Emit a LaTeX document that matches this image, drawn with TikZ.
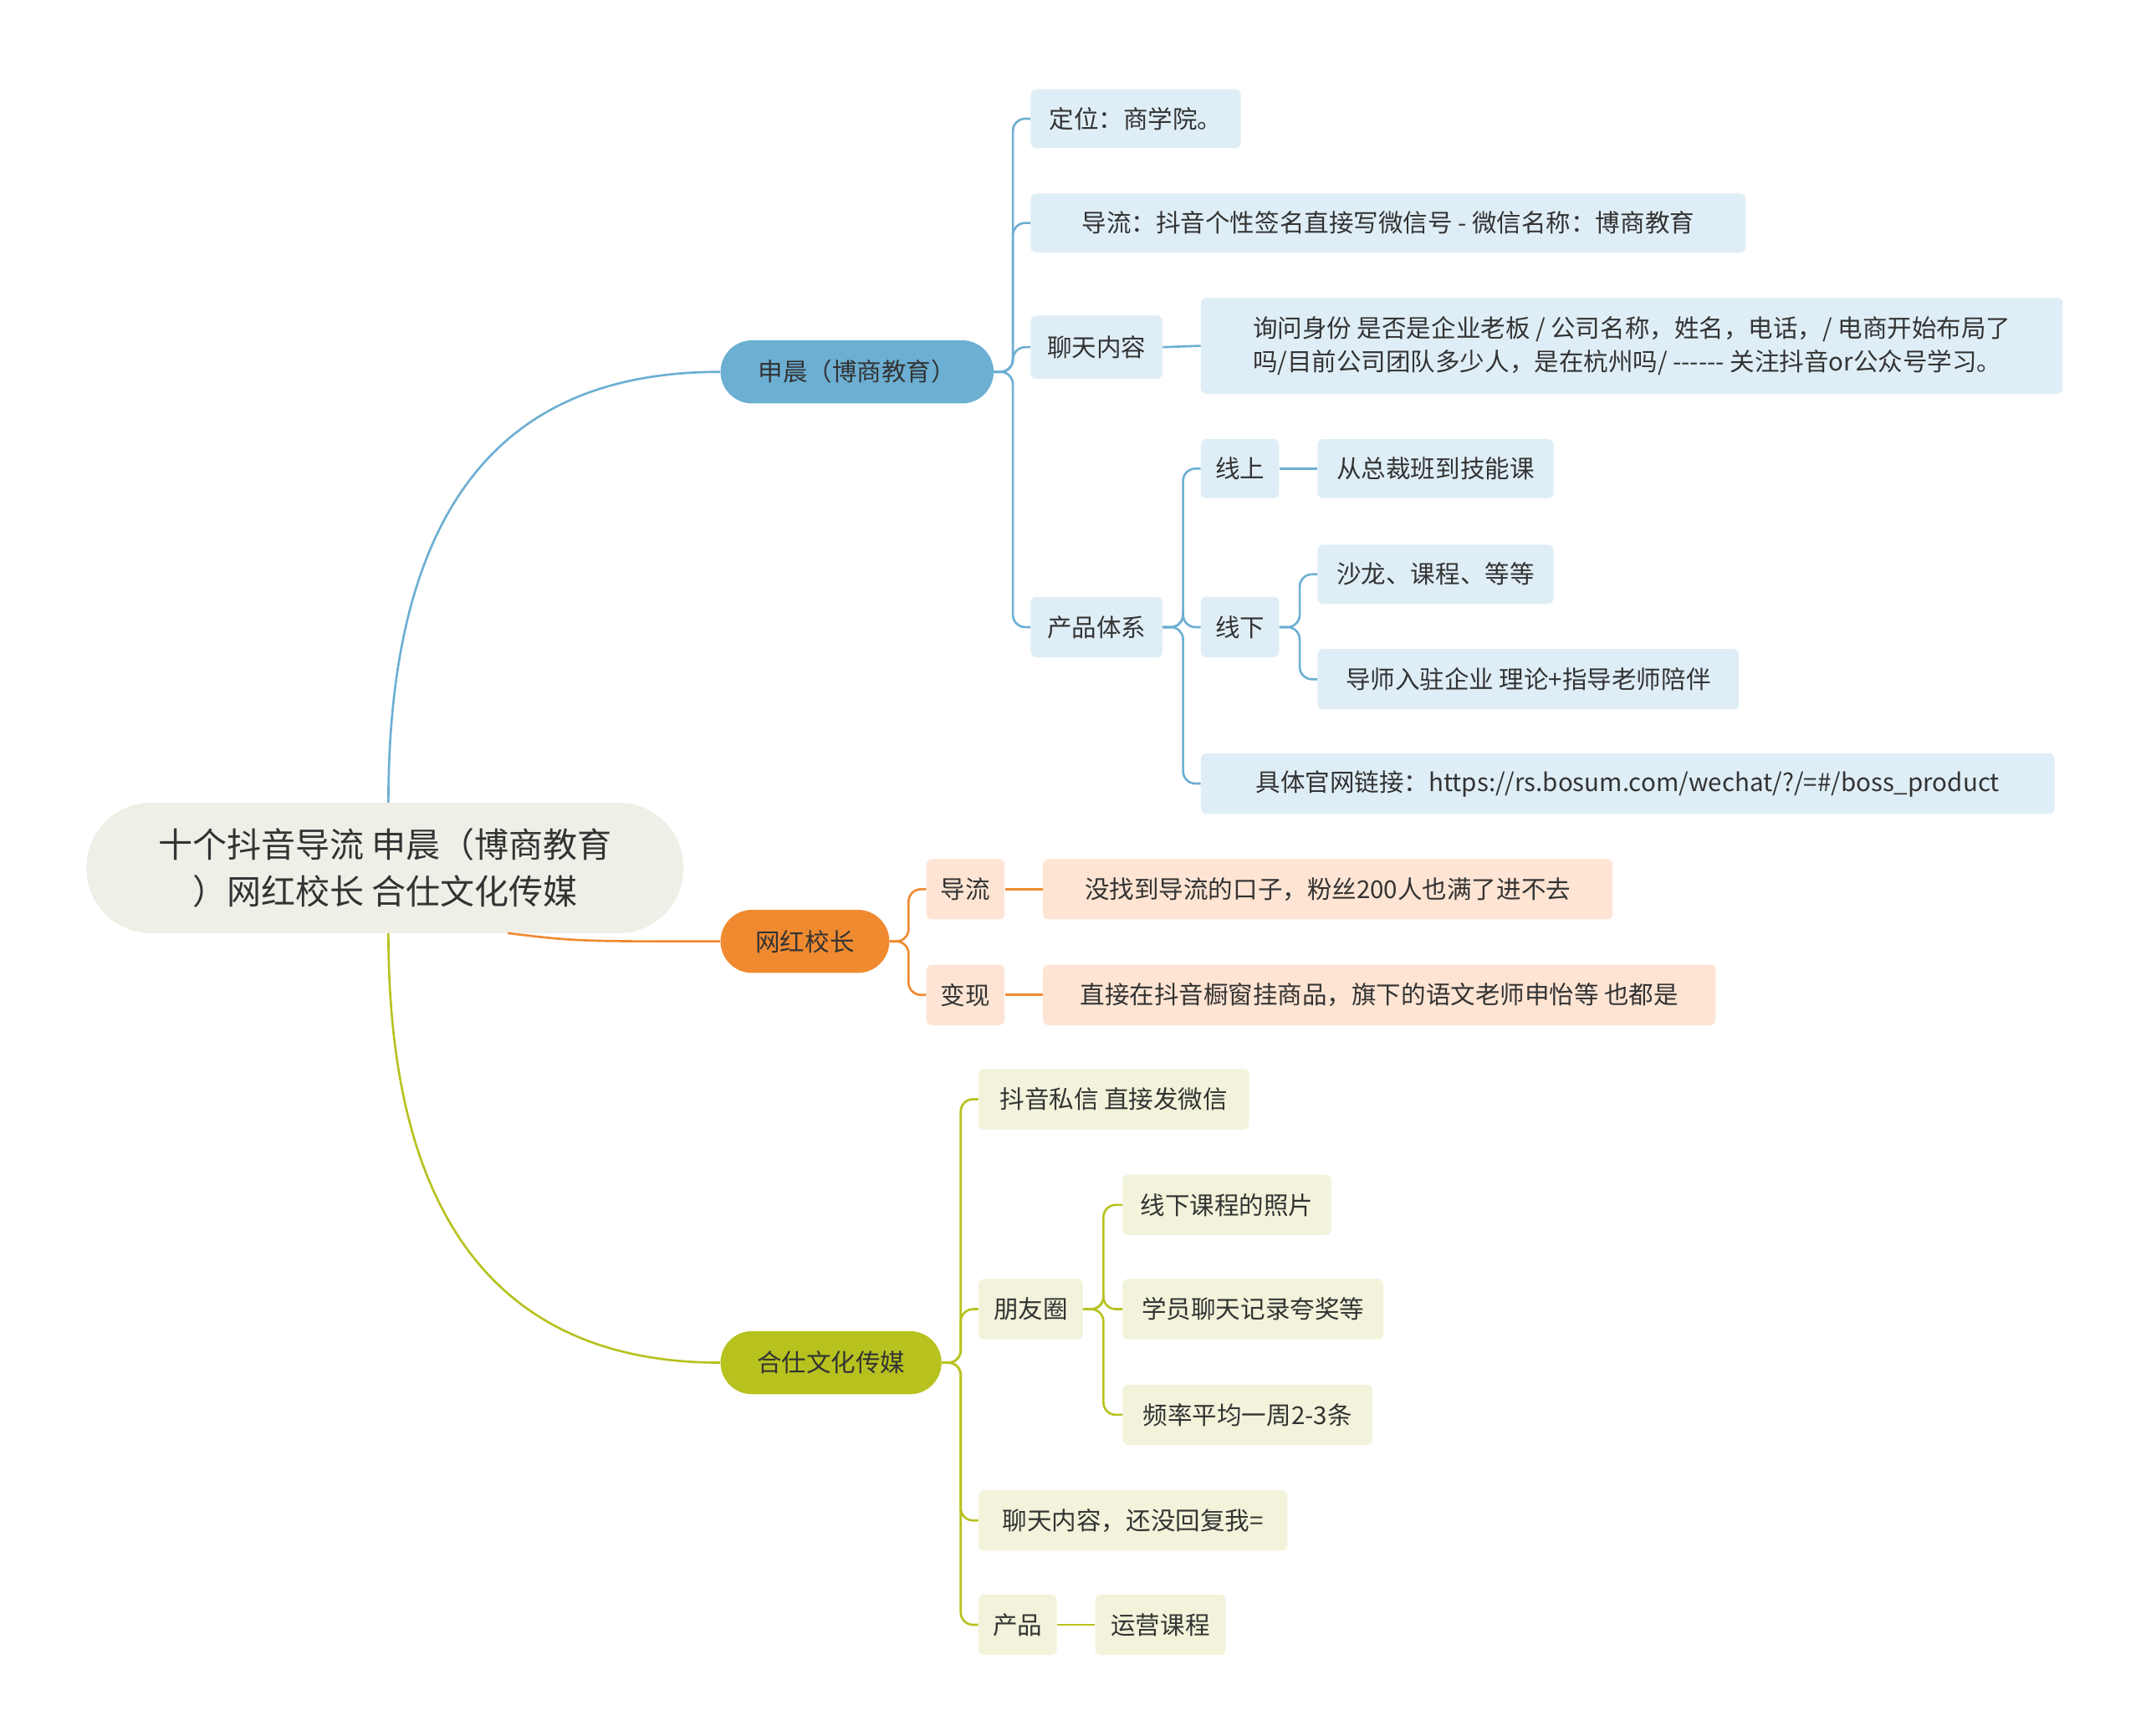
\documentclass[tikz,border=0pt]{standalone}
\usepackage{fontspec}
\setmainfont{Noto Sans CJK SC}
\definecolor{cbl}{HTML}{6CAFD3}
\definecolor{cblf}{HTML}{DFEEF6}
\definecolor{cor}{HTML}{F08A30}
\definecolor{corf}{HTML}{FDE4D3}
\definecolor{cgr}{HTML}{B7C21E}
\definecolor{cgrf}{HTML}{F2F3DA}
\definecolor{croot}{HTML}{EFEFE8}
\begin{document}
\begin{tikzpicture}[x=1pt,y=-1pt,
  bx/.style={rounded corners=4pt,inner sep=0pt,align=center,text=black!80,font=\fontsize{18}{24}\selectfont},
  bl/.style={bx,fill=cblf},
  ol/.style={bx,fill=corf},
  gl/.style={bx,fill=cgrf},
  cb/.style={draw=cbl,line width=1.6pt,rounded corners=9pt},
  co/.style={draw=cor,line width=1.6pt,rounded corners=9pt},
  cg/.style={draw=cgr,line width=1.6pt,rounded corners=9pt}]
\fill[white] (0,0) rectangle (1560,1265);
% root and main
\node[bx,fill=croot,rounded corners=47pt,minimum width=435,minimum height=95,font=\fontsize{25}{34}\selectfont] (root) at (280.5,632.5) {十个抖音导流 申晨（博商教育\\）网红校长 合仕文化传媒};
\node[bx,fill=cbl,rounded corners=23pt,minimum width=199,minimum height=46] (a) at (624.5,271) {申晨（博商教育）};
\node[bx,fill=cor,rounded corners=23pt,minimum width=123,minimum height=46] (b) at (586.5,686) {网红校长};
\node[bx,fill=cgr,rounded corners=23pt,minimum width=161,minimum height=46] (c) at (605.5,993) {合仕文化传媒};
% blue leaves
\node[bl,minimum width=153,minimum height=43] (a1) at (827.5,86.5) {定位：商学院。};
\node[bl,minimum width=521,minimum height=43] (a2) at (1011.5,162.5) {导流：抖音个性签名直接写微信号 - 微信名称：博商教育};
\node[bl,minimum width=96,minimum height=46] (a3) at (799,253) {聊天内容};
\node[bl,minimum width=628,minimum height=70,align=left] (a31) at (1189,252) {询问身份 是否是企业老板 / 公司名称，姓名，电话，/ 电商开始布局了\\吗/目前公司团队多少人，是在杭州吗/ {-}{-}{-}{-}{-}{-} 关注抖音or公众号学习。};
\node[bl,minimum width=96,minimum height=44] (a4) at (799,457) {产品体系};
\node[bl,minimum width=57,minimum height=43] (a41) at (903.5,341.5) {线上};
\node[bl,minimum width=172,minimum height=43] (a411) at (1046,341.5) {从总裁班到技能课};
\node[bl,minimum width=57,minimum height=44] (a42) at (903.5,457) {线下};
\node[bl,minimum width=172,minimum height=43] (a421) at (1046,418.5) {沙龙、课程、等等};
\node[bl,minimum width=307,minimum height=44] (a422) at (1113.5,495) {导师入驻企业 理论+指导老师陪伴};
\node[bl,minimum width=622,minimum height=44] (a43) at (1186,571) {具体官网链接：https://rs.bosum.com/wechat/?/=\#/boss\_product};
% orange leaves
\node[ol,minimum width=57,minimum height=44] (b1) at (703.5,648) {导流};
\node[ol,minimum width=415,minimum height=44] (b11) at (967.5,648) {没找到导流的口子，粉丝200人也满了进不去};
\node[ol,minimum width=57,minimum height=44] (b2) at (703.5,725) {变现};
\node[ol,minimum width=490,minimum height=44] (b21) at (1005,725) {直接在抖音橱窗挂商品，旗下的语文老师申怡等 也都是};
% green leaves
\node[gl,minimum width=197,minimum height=44] (c1) at (811.5,801) {抖音私信 直接发微信};
\node[gl,minimum width=76,minimum height=44] (c2) at (751,954) {朋友圈};
\node[gl,minimum width=152,minimum height=44] (c21) at (894,878) {线下课程的照片};
\node[gl,minimum width=190,minimum height=44] (c22) at (913,954) {学员聊天记录夸奖等};
\node[gl,minimum width=182,minimum height=44] (c23) at (909,1031) {频率平均一周2-3条};
\node[gl,minimum width=225,minimum height=44] (c3) at (825.5,1108) {聊天内容，还没回复我=};
\node[gl,minimum width=57,minimum height=44] (c4) at (741.5,1184) {产品};
\node[gl,minimum width=95,minimum height=44] (c41) at (845.5,1184) {运营课程};
% main connectors
\draw[cb,rounded corners=0pt] (283,585) .. controls (283,330) and (400,271) .. (a.west);
\draw[co,rounded corners=0pt] (370,680) .. controls (420,686) .. (b.west);
\draw[cg,rounded corners=0pt] (283,680) .. controls (283,930) and (400,993) .. (c.west);
% blue brackets
\foreach \n in {a1,a2,a3,a4} \draw[cb] (a.east) -- (738,271) |- (\n.west);
\draw[cb] (a3.east) -- (a31.west);
\foreach \n in {a41,a42,a43} \draw[cb] (a4.east) -- (862,457) |- (\n.west);
\draw[cb] (a41.east) -- (a411.west);
\foreach \n in {a421,a422} \draw[cb] (a42.east) -- (947,457) |- (\n.west);
% orange
\foreach \n in {b1,b2} \draw[co] (b.east) -- (662,686) |- (\n.west);
\draw[co] (b1.east) -- (b11.west);
\draw[co] (b2.east) -- (b21.west);
% green
\foreach \n in {c1,c2,c3,c4} \draw[cg] (c.east) -- (700,993) |- (\n.west);
\foreach \n in {c21,c22,c23} \draw[cg] (c2.east) -- (804,954) |- (\n.west);
\draw[cg] (c4.east) -- (c41.west);
\end{tikzpicture}
\end{document}
